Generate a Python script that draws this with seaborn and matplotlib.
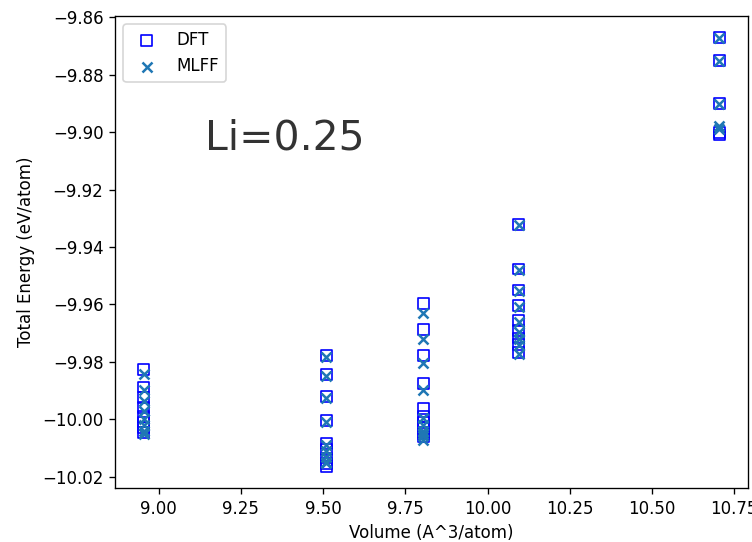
import matplotlib
matplotlib.use("Agg")
import matplotlib.pyplot as plt
import seaborn as sns
import pandas as pd

# volumes (A^3/atom) for the five cells
vols = [8.955, 9.51, 9.805, 10.095, 10.705]

# DFT energies per volume (eV/atom)
dft_e = [
    [-9.9828, -9.9888, -9.9925, -9.9960, -9.9990, -10.0010, -10.0030, -10.0045],
    [-9.9779, -9.9845, -9.9920, -10.0004, -10.0085, -10.0105, -10.0135, -10.0155, -10.0165],
    [-9.9597, -9.9687, -9.9777, -9.9875, -9.9962, -9.9990, -10.0010, -10.0030, -10.0050, -10.0062],
    [-9.9323, -9.9477, -9.9550, -9.9605, -9.9657, -9.9692, -9.9717, -9.9740, -9.9769],
    [-9.8670, -9.8750, -9.8900, -9.9000, -9.9010],
]

# MLFF predictions for the same structures
mlff_e = [
    [-9.9843, -9.9900, -9.9935, -9.9970, -10.0000, -10.0020, -10.0040, -10.0050],
    [-9.9785, -9.9850, -9.9925, -10.0010, -10.0090, -10.0110, -10.0130, -10.0150, -10.0152],
    [-9.9630, -9.9722, -9.9805, -9.9899, -9.9995, -10.0020, -10.0040, -10.0050, -10.0060, -10.0072],
    [-9.9325, -9.9480, -9.9552, -9.9608, -9.9660, -9.9695, -9.9720, -9.9743, -9.9772],
    [-9.8672, -9.8752, -9.8902, -9.8980, -9.8990],
]

rows = []
for v, d, m in zip(vols, dft_e, mlff_e):
    for a, b in zip(d, m):
        rows.append({"volume": v, "dft": a, "mlff": b})
df = pd.DataFrame(rows)

fig = plt.figure(figsize=(752 / 120, 542 / 120), dpi=120)
ax = fig.add_axes([0.153, 0.0996, 0.842, 0.871])

sns.scatterplot(data=df, x="volume", y="dft", marker="s", s=42, facecolor="none",
                edgecolor="b", linewidth=1, label="DFT", ax=ax)
sns.scatterplot(data=df, x="volume", y="mlff", marker="x", color="C0",
                linewidth=1.5, label="MLFF", ax=ax)

ax.text(9.14, -9.906, "Li=0.25", fontsize=24.5, color="#333333")

ax.set_xlabel("Volume (A^3/atom)")
ax.set_ylabel("Total Energy (eV/atom)")
ax.legend(loc="upper left")

fig.savefig("out.png", dpi=120)
